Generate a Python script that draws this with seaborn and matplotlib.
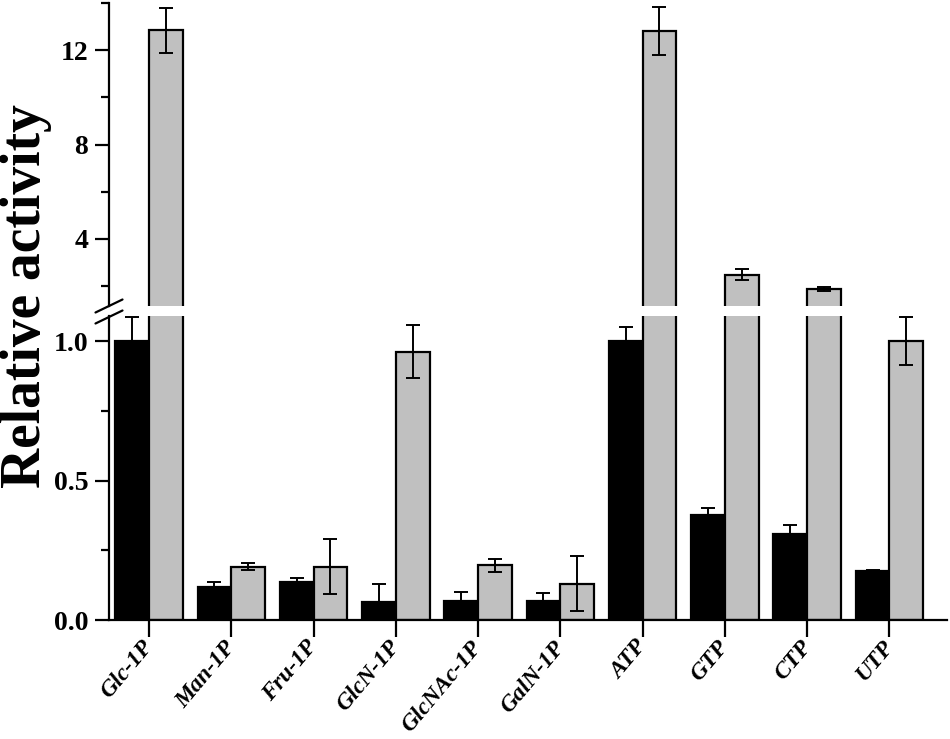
import matplotlib
matplotlib.use("Agg")
import matplotlib.pyplot as plt
from matplotlib.lines import Line2D
from matplotlib.ticker import FixedLocator, FormatStrFormatter
import seaborn as sns
import pandas as pd
import numpy as np

substrates = ["Glc-1P", "Man-1P", "Fru-1P", "GlcN-1P", "GlcNAc-1P",
              "GalN-1P", "ATP", "GTP", "CTP", "UTP"]
dark_vals = [1.0, 0.117, 0.135, 0.065, 0.067, 0.069, 1.0, 0.377, 0.308, 0.174]
dark_err = [0.085, 0.018, 0.017, 0.064, 0.033, 0.027, 0.052, 0.023, 0.031, 0.007]
light_vals = [12.85, 0.191, 0.191, 0.962, 0.196, 0.130, 12.82, 2.48, 1.87, 1.0]
light_err = [0.95, 0.012, 0.098, 0.094, 0.023, 0.099, 1.01, 0.23, 0.09, 0.087]

df = pd.DataFrame({
    "substrate": substrates * 2,
    "series": ["dark"] * len(substrates) + ["light"] * len(substrates),
    "value": dark_vals + light_vals,
})

sns.set_style("ticks", {"axes.edgecolor": "black", "text.color": "black",
                        "xtick.color": "black", "ytick.color": "black"})
plt.rcParams["font.family"] = ["Liberation Serif", "DejaVu Serif"]
plt.rcParams["font.weight"] = "bold"

W, H = 950, 739
fig = plt.figure(figsize=(W / 100, H / 100), dpi=100)
left, right = 109 / W, 947 / W
ax_top = fig.add_axes([left, 1 - 306 / H, right - left, 303 / H])
ax_bot = fig.add_axes([left, 1 - 620 / H, right - left, 304 / H])

for ax in (ax_top, ax_bot):
    sns.barplot(data=df, x="substrate", y="value", hue="series",
                palette={"dark": "black", "light": "#c0c0c0"},
                width=0.82, gap=0, edgecolor="black", linewidth=1.6,
                errorbar=None, legend=False, ax=ax, zorder=2)
    # error bars on the bar centres
    for cont, vals, errs, lower in zip(ax.containers, [dark_vals, light_vals],
                                       [dark_err, light_err], [False, True]):
        xs = [b.get_x() + b.get_width() / 2 for b in cont]
        lo = errs if lower else np.zeros(len(errs))
        ax.errorbar(xs, vals, yerr=[lo, errs], fmt="none", ecolor="black",
                    elinewidth=1.4, capsize=5, capthick=1.4, zorder=3)
    ax.set_xlim(-0.486, 9.70)
    ax.set_xlabel("")
    ax.set_ylabel("")
    for s in ["top", "right"]:
        ax.spines[s].set_visible(False)
    ax.spines["left"].set_linewidth(1.6)
    ax.spines["bottom"].set_linewidth(1.6)
    ax.tick_params(axis="both", which="major", direction="out", length=10,
                   width=1.6, labelsize=20, pad=5, colors="black")
    ax.tick_params(axis="y", which="minor", direction="out", length=6, width=1.6,
                   colors="black")

ax_top.set_ylim(1.16, 14)
ax_top.spines["bottom"].set_visible(False)
ax_top.tick_params(axis="x", which="both", bottom=False, labelbottom=False)
ax_top.yaxis.set_major_locator(FixedLocator([4, 8, 12]))
ax_top.yaxis.set_minor_locator(FixedLocator([2, 6, 10, 14]))
ax_top.yaxis.set_major_formatter(FormatStrFormatter("%d"))

ax_bot.set_ylim(0, 1.09)
ax_bot.yaxis.set_major_locator(FixedLocator([0.0, 0.5, 1.0]))
ax_bot.yaxis.set_minor_locator(FixedLocator([0.25, 0.75]))
ax_bot.yaxis.set_major_formatter(FormatStrFormatter("%.1f"))
ax_bot.tick_params(axis="x", length=12, pad=5, labelsize=17)
for lab in ax_bot.get_xticklabels():
    lab.set_rotation(50)
    lab.set_ha("right")
    lab.set_va("center")
    lab.set_rotation_mode("anchor")
    lab.set_fontstyle("italic")
    lab.set_fontweight("bold")

# break marks on the left spine
for yc in (306, 317):
    fig.add_artist(Line2D([left - 13.5 / W, left + 13.5 / W],
                          [1 - (yc + 6.5) / H, 1 - (yc - 6.5) / H],
                          transform=fig.transFigure, color="black", lw=1.6))

fig.text(0.027, 1 - 296 / H, "Relative activity", rotation=90, ha="center",
         va="center", fontsize=40, fontweight="bold", color="black")

fig.savefig("out.png", dpi=100)
